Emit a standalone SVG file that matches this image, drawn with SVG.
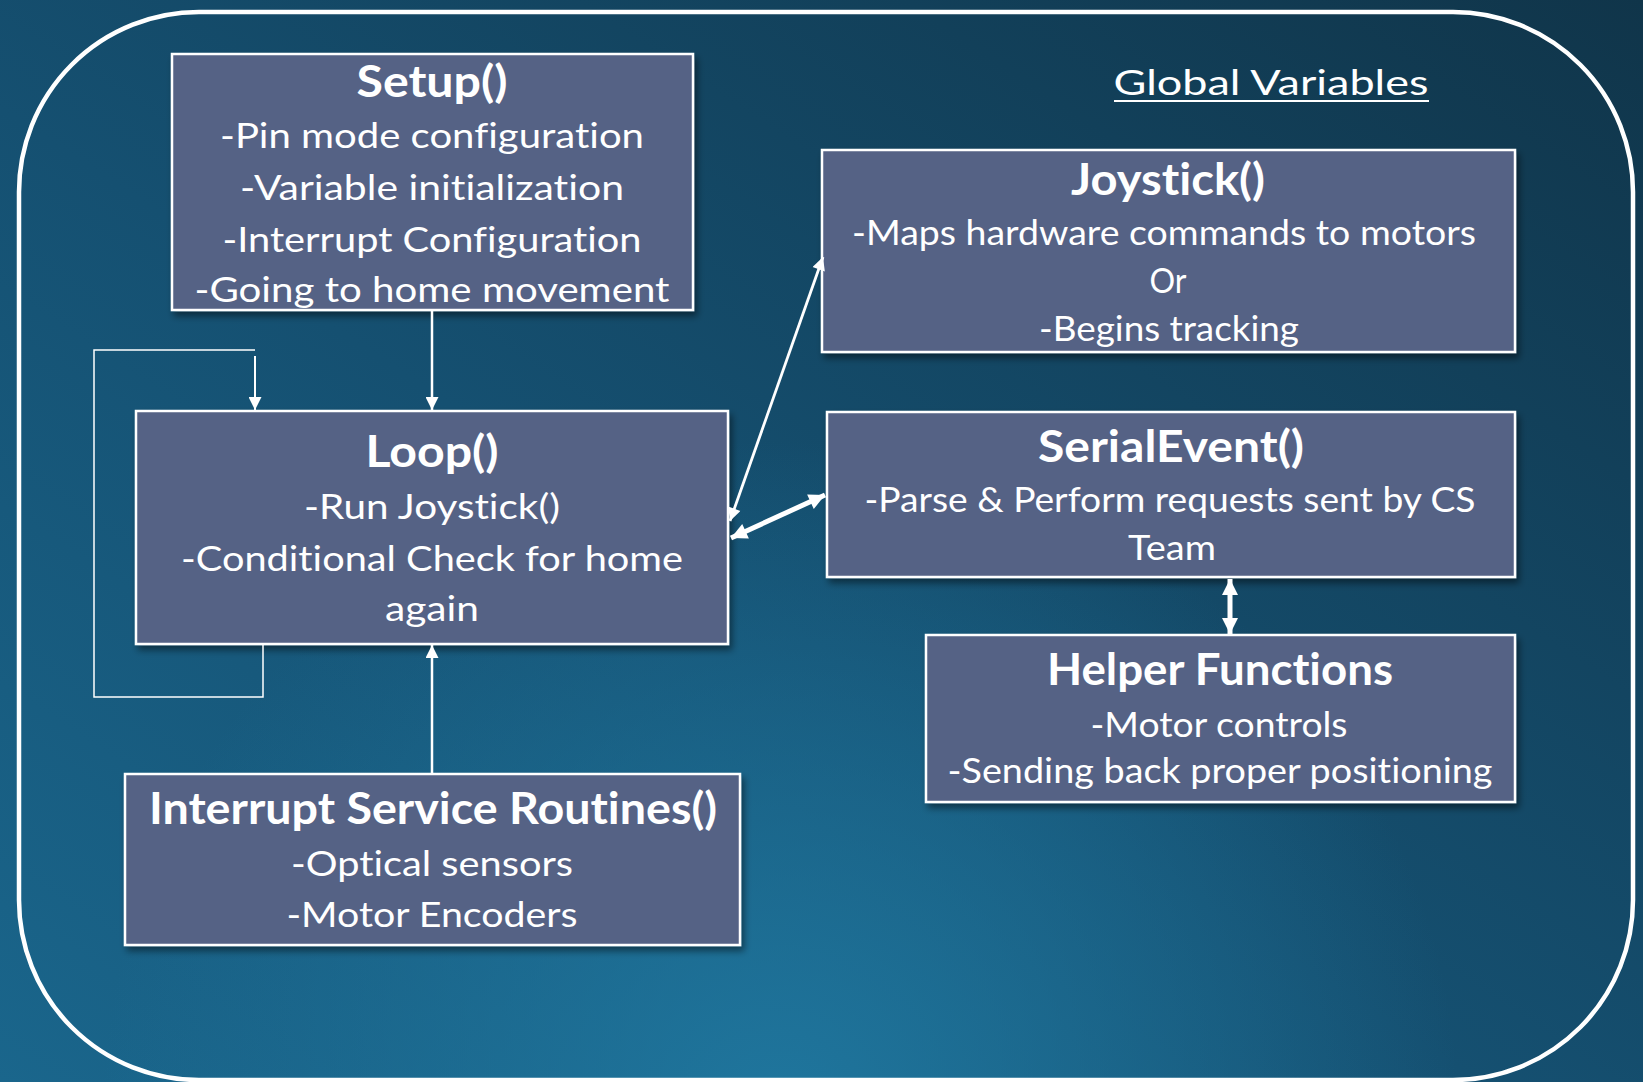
<svg xmlns="http://www.w3.org/2000/svg" width="1643" height="1082" viewBox="0 0 1643 1082">
<defs>
<linearGradient id="bg" x1="0" y1="1" x2="1" y2="0">
<stop offset="0" stop-color="#1a668c"/>
<stop offset="0.45" stop-color="#155071"/>
<stop offset="1" stop-color="#10354a"/>
</linearGradient>
<radialGradient id="glow" cx="780" cy="1120" r="680" gradientUnits="userSpaceOnUse">
<stop offset="0" stop-color="#2079a1" stop-opacity="0.9"/>
<stop offset="1" stop-color="#2079a1" stop-opacity="0"/>
</radialGradient>
<filter id="sh" x="-10%" y="-10%" width="125%" height="130%">
<feDropShadow dx="3" dy="5" stdDeviation="3.5" flood-color="#000" flood-opacity="0.45"/>
</filter>
<marker id="ah" viewBox="0 0 10 10" refX="10" refY="5" markerWidth="14" markerHeight="13" markerUnits="userSpaceOnUse" orient="auto-start-reverse">
<path d="M0,0 L10,5 L0,10 z" fill="#fff"/>
</marker>
<marker id="ahs" viewBox="0 0 10 10" refX="10" refY="5" markerWidth="18" markerHeight="16" markerUnits="userSpaceOnUse" orient="auto-start-reverse">
<path d="M0,0 L10,5 L0,10 z" fill="#fff"/>
</marker>
</defs>
<style>
.box{fill:#546285;stroke:#fff;stroke-width:2.5;filter:url(#sh)}
.t{font-family:Lato,"Open Sans","Liberation Sans",sans-serif;fill:#fff;text-anchor:middle;font-variant-ligatures:none;font-feature-settings:"liga" 0}
.h{font-size:43px;font-weight:bold}
.b{font-size:34px}
.c{fill:none;stroke:#fff}
</style>
<rect width="1643" height="1082" fill="url(#bg)"/>
<rect width="1643" height="1082" fill="url(#glow)"/>
<rect x="19" y="12" width="1614" height="1068" rx="180" ry="180" fill="none" stroke="#fff" stroke-width="4.5"/>

<g id="global-variables">
<text class="t b" x="1271" y="95" textLength="315" lengthAdjust="spacingAndGlyphs">Global Variables</text>
<line x1="1114" y1="101" x2="1429" y2="101" stroke="#fff" stroke-width="2"/>
</g>

<g id="setup">
<rect class="box" x="172" y="54" width="521" height="256"/>
<text class="t h" x="432" y="97" textLength="151" lengthAdjust="spacingAndGlyphs">Setup()</text>
<text class="t b" x="432" y="148" textLength="424" lengthAdjust="spacingAndGlyphs">-Pin mode configuration</text>
<text class="t b" x="432" y="200" textLength="384" lengthAdjust="spacingAndGlyphs">-Variable initialization</text>
<text class="t b" x="432" y="252" textLength="419" lengthAdjust="spacingAndGlyphs">-Interrupt Configuration</text>
<text class="t b" x="432" y="302" textLength="475" lengthAdjust="spacingAndGlyphs">-Going to home movement</text>
</g>

<g id="loop">
<rect class="box" x="136" y="411" width="592" height="233"/>
<text class="t h" x="432" y="467" textLength="133" lengthAdjust="spacingAndGlyphs">Loop()</text>
<text class="t b" x="432" y="519" textLength="256" lengthAdjust="spacingAndGlyphs">-Run Joystick()</text>
<text class="t b" x="432" y="571" textLength="502" lengthAdjust="spacingAndGlyphs">-Conditional Check for home</text>
<text class="t b" x="432" y="621" textLength="94" lengthAdjust="spacingAndGlyphs">again</text>
</g>

<g id="isr">
<rect class="box" x="125" y="774" width="615" height="171"/>
<text class="t h" x="433" y="824" textLength="568" lengthAdjust="spacingAndGlyphs">Interrupt Service Routines()</text>
<text class="t b" x="432" y="876" textLength="282" lengthAdjust="spacingAndGlyphs">-Optical sensors</text>
<text class="t b" x="432" y="927" textLength="291" lengthAdjust="spacingAndGlyphs">-Motor Encoders</text>
</g>

<g id="joystick">
<rect class="box" x="822" y="150" width="693" height="202"/>
<text class="t h" x="1168" y="195" textLength="194" lengthAdjust="spacingAndGlyphs">Joystick()</text>
<text class="t b" x="1164" y="245" textLength="624" lengthAdjust="spacingAndGlyphs">-Maps hardware commands to motors</text>
<text class="t b" x="1168" y="293" textLength="37" lengthAdjust="spacingAndGlyphs">Or</text>
<text class="t b" x="1169" y="341" textLength="260" lengthAdjust="spacingAndGlyphs">-Begins tracking</text>
</g>

<g id="serialevent">
<rect class="box" x="827" y="412" width="688" height="165"/>
<text class="t h" x="1171" y="462" textLength="266" lengthAdjust="spacingAndGlyphs">SerialEvent()</text>
<text class="t b" x="1170" y="512" textLength="611" lengthAdjust="spacingAndGlyphs">-Parse &amp; Perform requests sent by CS</text>
<text class="t b" x="1172" y="560" textLength="88" lengthAdjust="spacingAndGlyphs">Team</text>
</g>

<g id="helper">
<rect class="box" x="926" y="635" width="589" height="167"/>
<text class="t h" x="1220" y="685" textLength="346" lengthAdjust="spacingAndGlyphs">Helper Functions</text>
<text class="t b" x="1219" y="737" textLength="257" lengthAdjust="spacingAndGlyphs">-Motor controls</text>
<text class="t b" x="1220" y="783" textLength="545" lengthAdjust="spacingAndGlyphs">-Sending back proper positioning</text>
</g>

<g id="connectors">
<line class="c" x1="432" y1="310" x2="432" y2="410" stroke-width="2.5" marker-end="url(#ah)"/>
<line class="c" x1="432" y1="773" x2="432" y2="645" stroke-width="2.5" marker-end="url(#ah)"/>
<path class="c" d="M263,644 V697 H94 V350 H255" stroke-width="1.5"/>
<line class="c" x1="255" y1="356" x2="255" y2="410" stroke-width="2" marker-end="url(#ah)"/>
<line class="c" x1="730" y1="521" x2="823" y2="257" stroke-width="2.8" marker-start="url(#ah)" marker-end="url(#ah)"/>
<line class="c" x1="731" y1="538" x2="825" y2="495" stroke-width="5" marker-start="url(#ahs)" marker-end="url(#ahs)"/>
<line class="c" x1="1230" y1="579" x2="1230" y2="634" stroke-width="5" marker-start="url(#ahs)" marker-end="url(#ahs)"/>
</g>
</svg>
